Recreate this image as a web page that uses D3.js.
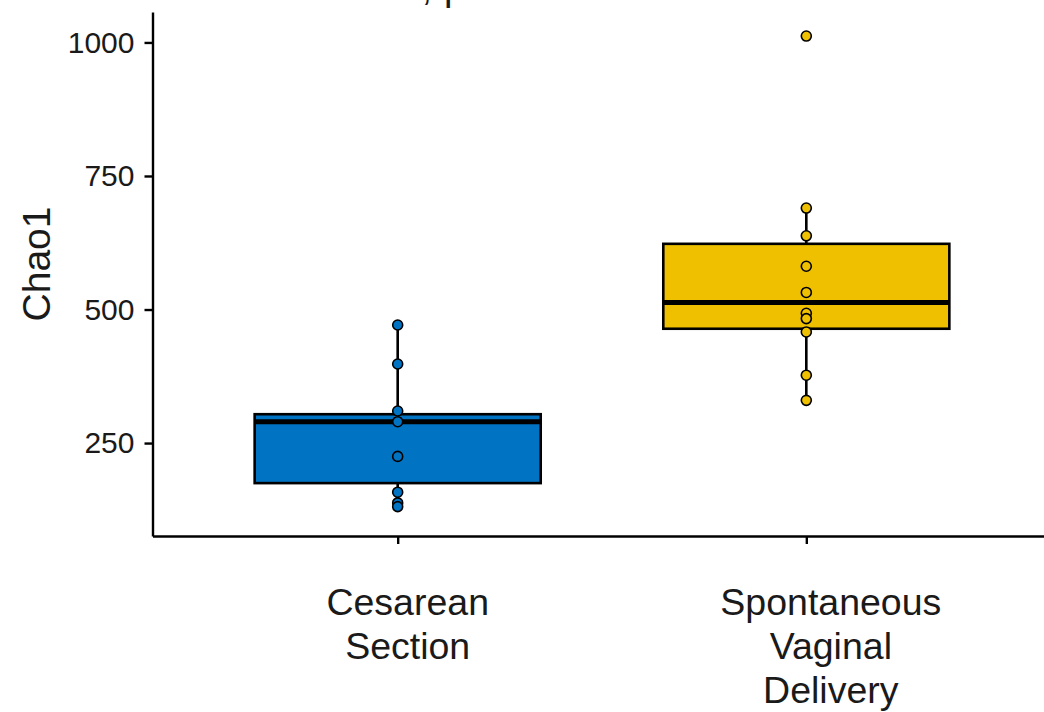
<!DOCTYPE html>
<html><head><meta charset="utf-8">
<script src="https://cdn.jsdelivr.net/npm/d3@7"></script>
<style>
body{margin:0;background:#fff}
svg{display:block}
text{font-family:"Liberation Sans",Arial,Helvetica,sans-serif;fill:#1a1a1a}
</style>
</head><body>
<svg id="c" width="1044" height="712"></svg>
<script>
// ---- data ----
const categories = ["Cesarean\nSection", "Spontaneous\nVaginal\nDelivery"];
const fills = ["#0073C2", "#EFC000"];
const boxQ1 = [175, 464];
const boxMedian = [290, 513];
const boxQ3 = [304, 623];
const whiskerLow = [131, 330];
const whiskerHigh = [471, 690];
const pointsCS = [471, 398, 310, 290, 225, 158, 138, 131];
const pointsSVD = [1012, 690, 638, 581, 532, 493, 483, 458, 377, 330];
const yTicks = [250, 500, 750, 1000];
const yLabel = "Chao1";
const titleLeft = "Wilcoxon,";
const titleRight = "p = 1.6e-05";

// ---- layout ----
const svg = d3.select("#c");
const panel = {left: 152.5, right: 1051.5, top: 12, bottom: 536};

const x = d3.scalePoint().domain(categories).range([panel.left, panel.right]).padding(0.6);
const y = d3.scaleLinear().domain([76, 1057]).range([panel.bottom, panel.top]);
const boxW = x.step() * 0.7;
const groups = categories.map((c, i) => ({
  cat: c, fill: fills[i], q1: boxQ1[i], med: boxMedian[i], q3: boxQ3[i],
  lo: whiskerLow[i], hi: whiskerHigh[i], pts: [pointsCS, pointsSVD][i]
}));

const g = svg.append("g");
groups.forEach(d => {
  const cx = x(d.cat);
  g.append("line").attr("x1", cx).attr("x2", cx).attr("y1", y(d.q3)).attr("y2", y(d.hi))
    .attr("stroke", "#000").attr("stroke-width", 2.6);
  g.append("line").attr("x1", cx).attr("x2", cx).attr("y1", y(d.q1)).attr("y2", y(d.lo))
    .attr("stroke", "#000").attr("stroke-width", 2.6);
  g.append("rect").attr("x", cx - boxW / 2).attr("width", boxW)
    .attr("y", y(d.q3)).attr("height", y(d.q1) - y(d.q3))
    .attr("fill", d.fill).attr("stroke", "#000").attr("stroke-width", 2.6);
  g.append("line").attr("x1", cx - boxW / 2).attr("x2", cx + boxW / 2)
    .attr("y1", y(d.med)).attr("y2", y(d.med))
    .attr("stroke", "#000").attr("stroke-width", 5);
});
groups.forEach(d => {
  g.selectAll(null).data(d.pts).enter().append("circle")
    .attr("cx", x(d.cat)).attr("cy", v => y(v)).attr("r", 5)
    .attr("fill", d.fill).attr("stroke", "#000").attr("stroke-width", 1.6);
});

// axes
const xAxis = svg.append("g").attr("transform", `translate(0,${panel.bottom})`)
  .call(d3.axisBottom(x).tickSizeOuter(0).tickSizeInner(8));
xAxis.select(".domain").attr("stroke", "#000").attr("stroke-width", 2.4);
xAxis.selectAll(".tick line").attr("stroke", "#000").attr("stroke-width", 2.4);
const labelDx = [9.5, 24];
xAxis.selectAll(".tick text").each(function(d, i) {
  const t = d3.select(this);
  t.text(null).attr("y", 79).attr("dy", null)
    .attr("font-size", 37.5).attr("fill", "#1a1a1a").attr("text-anchor", "middle");
  d.split("\n").forEach((line, j) => {
    t.append("tspan").attr("x", labelDx[i]).attr("dy", j === 0 ? 0 : 44).text(line);
  });
});

const yAxis = svg.append("g").attr("transform", `translate(${panel.left},0)`)
  .call(d3.axisLeft(y).tickValues(yTicks).tickFormat(d3.format("d"))
    .tickSizeOuter(0).tickSizeInner(8).tickPadding(10));
yAxis.select(".domain").attr("stroke", "#000").attr("stroke-width", 2.4);
yAxis.selectAll(".tick line").attr("stroke", "#000").attr("stroke-width", 2.4);
yAxis.selectAll(".tick text").attr("font-size", 30).attr("fill", "#1a1a1a");

// y label
svg.append("text").attr("transform", `translate(50,${(panel.top + panel.bottom) / 2 - 10}) rotate(-90)`)
  .attr("text-anchor", "middle").attr("font-size", 39).text(yLabel);

// title (mostly cut off at the top edge, as in the reference)
svg.append("text").attr("x", 432).attr("y", 0).attr("text-anchor", "end")
  .attr("font-size", 38).text(titleLeft);
svg.append("text").attr("x", 444).attr("y", 0).attr("text-anchor", "start")
  .attr("font-size", 38).text(titleRight);
</script>
</body></html>
